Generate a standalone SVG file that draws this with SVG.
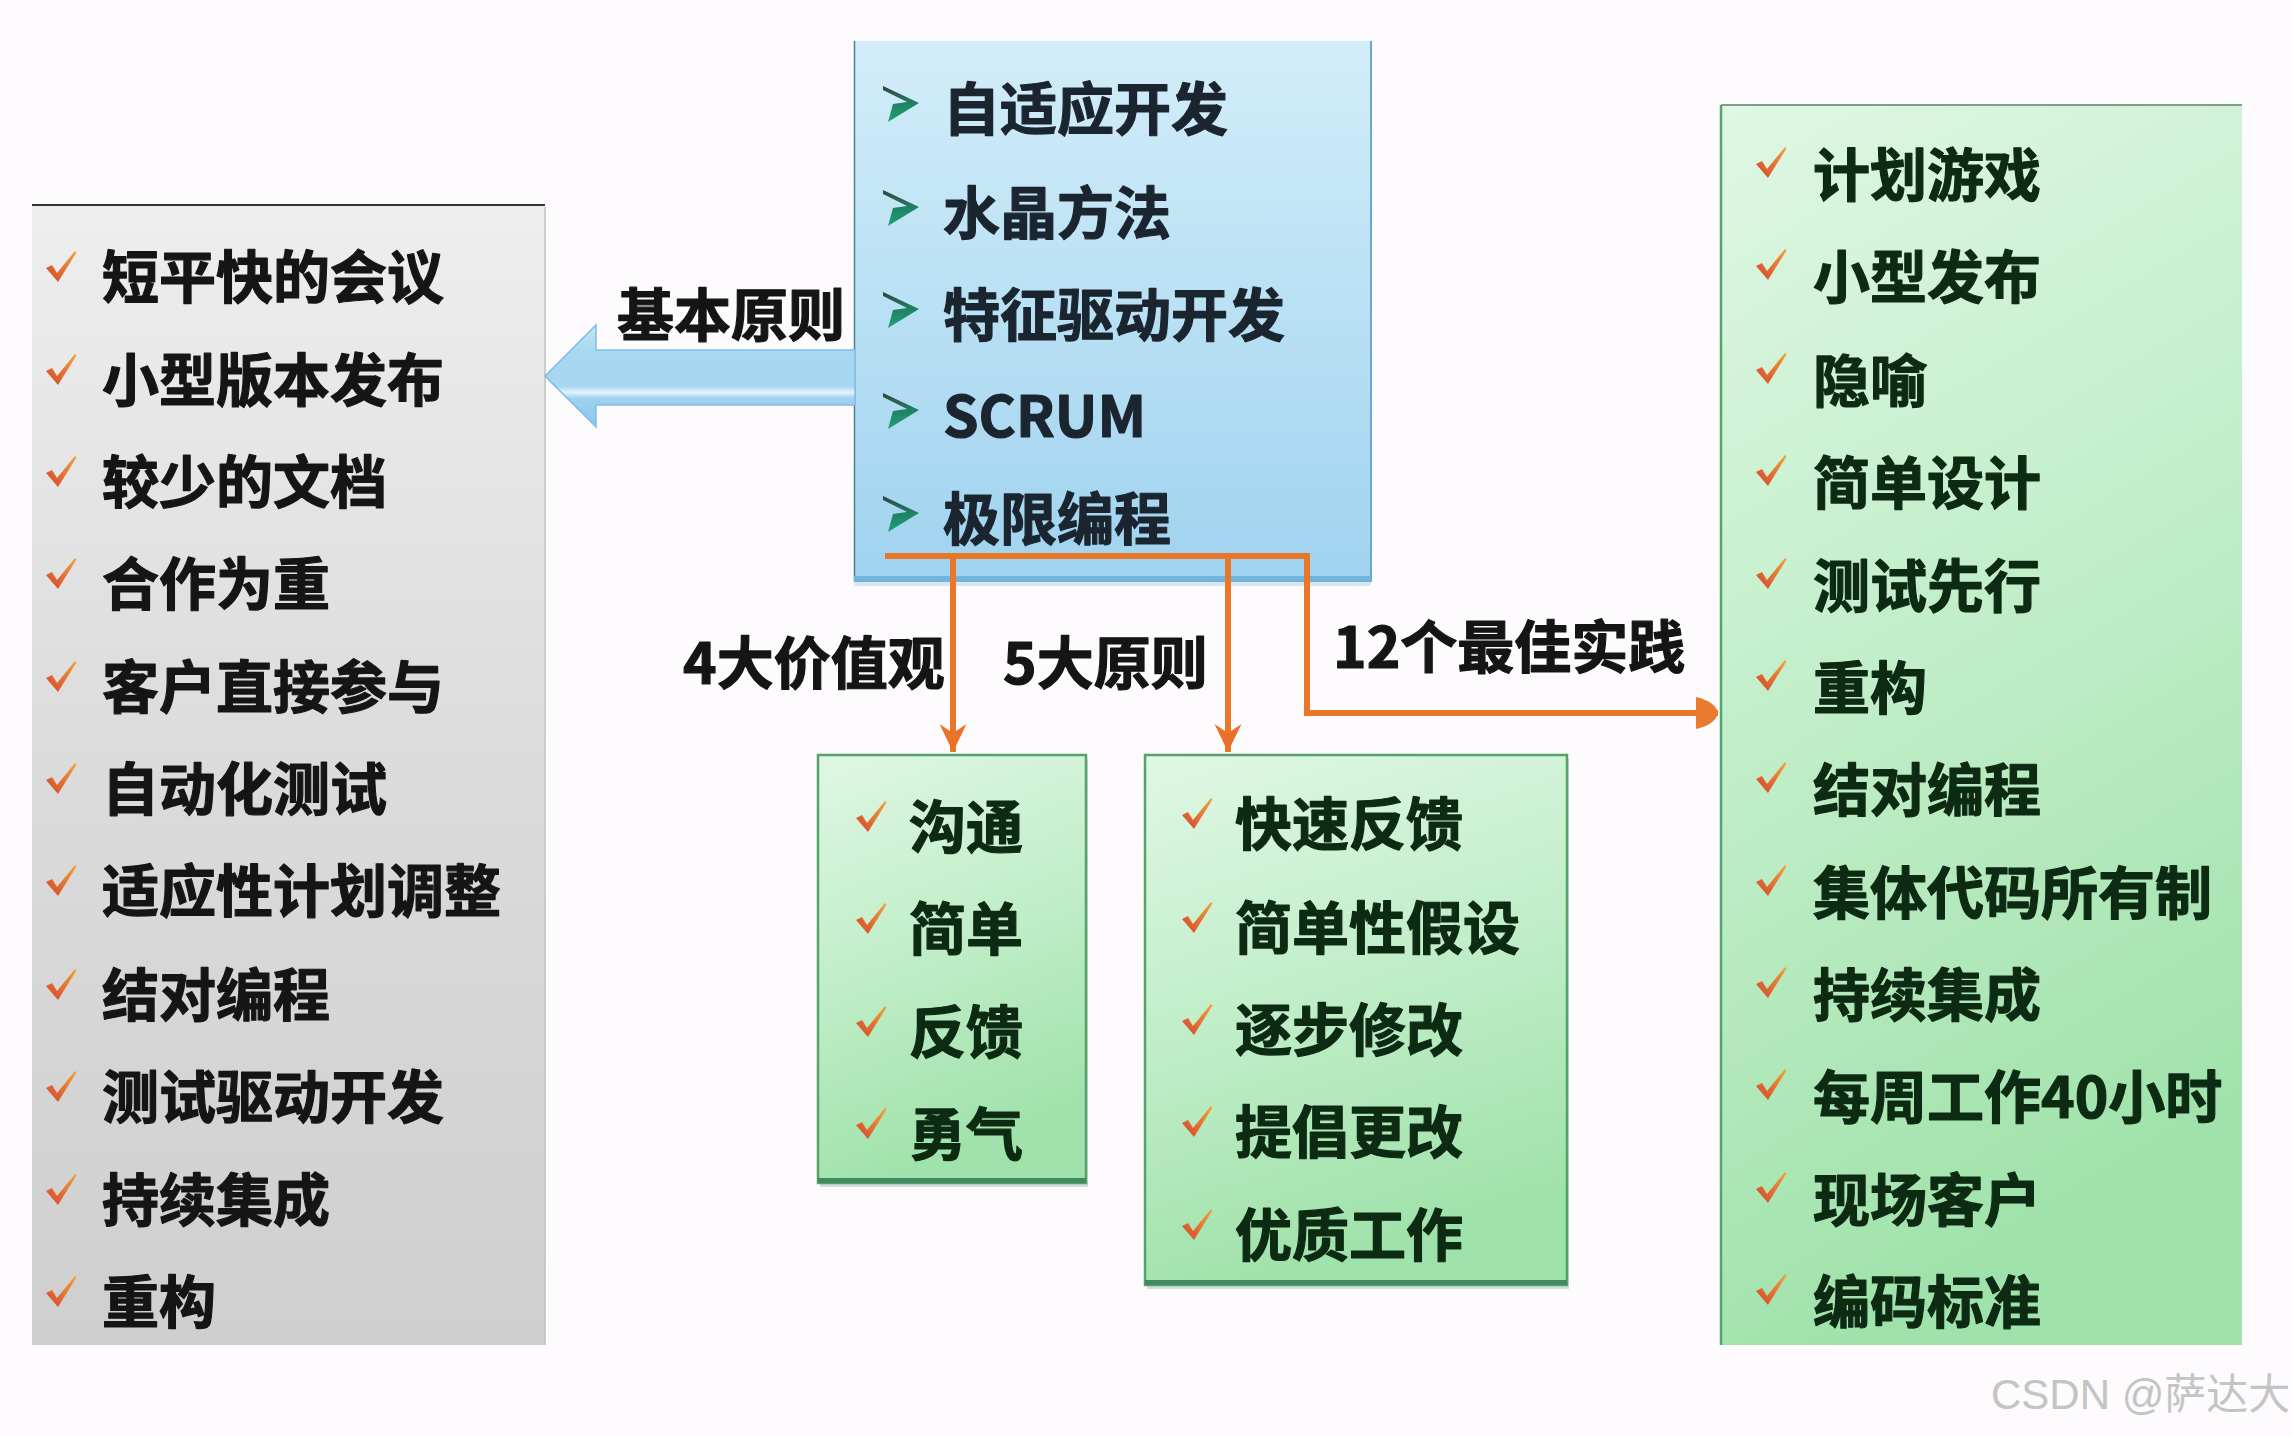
<svg xmlns="http://www.w3.org/2000/svg" width="2292" height="1436" viewBox="0 0 2292 1436">
<defs>
<style>
.t{font-family:"Noto Sans CJK SC","Noto Sans",sans-serif;font-weight:700;font-size:57px;dominant-baseline:central;stroke-width:1.2px;stroke-linejoin:round}
.tg{fill:#151515;stroke:#151515}
.tb{fill:#1b2530;stroke:#1b2530}
.tn{fill:#0d2a12;stroke:#0d2a12}
.lbl{fill:#151515;stroke:#151515}
.wm{font-family:"Liberation Sans","Noto Sans CJK SC",sans-serif;font-size:42px;fill:#c4c4c4;dominant-baseline:central}
.conn{fill:none;stroke:#ea7628;stroke-width:6}
</style>
<linearGradient id="gGray" x1="0" y1="0" x2="0" y2="1"><stop offset="0" stop-color="#eeeeee"/><stop offset="0.5" stop-color="#dbdbdb"/><stop offset="1" stop-color="#cfcfcf"/></linearGradient>
<linearGradient id="gBlue" x1="0" y1="0" x2="0" y2="1"><stop offset="0" stop-color="#d3edf9"/><stop offset="1" stop-color="#9fd3ef"/></linearGradient>
<linearGradient id="gGreen" x1="0" y1="0" x2="0.25" y2="1"><stop offset="0" stop-color="#dff7e4"/><stop offset="0.5" stop-color="#c2eec9"/><stop offset="1" stop-color="#a0e2ab"/></linearGradient>
<linearGradient id="gArrow" x1="0" y1="0" x2="0" y2="1"><stop offset="0" stop-color="#c4e6f6"/><stop offset="0.25" stop-color="#a9d8f1"/><stop offset="0.6" stop-color="#a6d6f0"/><stop offset="0.66" stop-color="#e4f3fb"/><stop offset="0.72" stop-color="#9fd1ee"/><stop offset="1" stop-color="#8ac8ea"/></linearGradient>
<linearGradient id="gCheck" x1="1" y1="0" x2="0" y2="1"><stop offset="0" stop-color="#f2a43c"/><stop offset="1" stop-color="#d4442c"/></linearGradient>
<linearGradient id="gChev" x1="0" y1="0" x2="0" y2="1"><stop offset="0" stop-color="#34403f"/><stop offset="0.45" stop-color="#1f7f62"/><stop offset="1" stop-color="#1fa277"/></linearGradient>
<path id="chk" d="M1,17 L7,14 L12,22 L30,0 L31.5,1.5 L13,31 Z" fill="url(#gCheck)"/>
<path id="chev" d="M0,0 L36,17 L5,36 L10,18 L24,16 L0,4 Z" fill="url(#gChev)"/>
<marker id="mDown" markerUnits="userSpaceOnUse" markerWidth="30" markerHeight="30" viewBox="0 -15 30 30" refX="28" refY="0" orient="auto"><path d="M0,-13.5 L28,0 L0,13.5 L9,0 Z" fill="#ea7228"/></marker>
<marker id="mRight" markerUnits="userSpaceOnUse" markerWidth="26" markerHeight="36" viewBox="0 -18 26 36" refX="22" refY="0" orient="auto"><path d="M0,-16 Q20,-11 22,0 Q20,11 0,16 Z" fill="#e97a2e"/></marker>
</defs>
<rect width="2292" height="1436" fill="#fdfbfd"/>

<g id="practices">
<rect x="32" y="205" width="513" height="1140" fill="url(#gGray)"/>
<line x1="32" y1="205" x2="545" y2="205" stroke="#333" stroke-width="2"/>
<line x1="545" y1="207" x2="545" y2="1345" stroke="#c2c2c2" stroke-width="1.5"/>
<use href="#chk" x="45" y="251"/><text class="t tg" x="102" y="273">短平快的会议</text>
<use href="#chk" x="45" y="354"/><text class="t tg" x="102" y="376">小型版本发布</text>
<use href="#chk" x="45" y="456"/><text class="t tg" x="102" y="478">较少的文档</text>
<use href="#chk" x="45" y="558"/><text class="t tg" x="102" y="580">合作为重</text>
<use href="#chk" x="45" y="661"/><text class="t tg" x="102" y="683">客户直接参与</text>
<use href="#chk" x="45" y="763"/><text class="t tg" x="102" y="785">自动化测试</text>
<use href="#chk" x="45" y="865"/><text class="t tg" x="102" y="887">适应性计划调整</text>
<use href="#chk" x="45" y="969"/><text class="t tg" x="102" y="991">结对编程</text>
<use href="#chk" x="45" y="1071"/><text class="t tg" x="102" y="1093">测试驱动开发</text>
<use href="#chk" x="45" y="1174"/><text class="t tg" x="102" y="1196">持续集成</text>
<use href="#chk" x="45" y="1276"/><text class="t tg" x="102" y="1298">重构</text>
</g>

<g id="methods">
<rect x="854" y="41" width="517" height="541" fill="url(#gBlue)"/>
<line x1="854.5" y1="41" x2="854.5" y2="582" stroke="#4d7f9c" stroke-width="1.5"/>
<line x1="1371" y1="41" x2="1371" y2="582" stroke="#6aa8cc" stroke-width="2"/>
<rect x="854" y="576" width="517" height="6" fill="#72b4da"/>
<rect x="854" y="582" width="517" height="4" fill="#c9dde8" opacity="0.7"/>
<use href="#chev" x="883" y="86"/><text class="t tb" x="943" y="105">自适应开发</text>
<use href="#chev" x="883" y="190"/><text class="t tb" x="943" y="209">水晶方法</text>
<use href="#chev" x="883" y="292"/><text class="t tb" x="943" y="311">特征驱动开发</text>
<use href="#chev" x="883" y="393"/><text class="t tb" x="943" y="412">SCRUM</text>
<use href="#chev" x="883" y="496"/><text class="t tb" x="943" y="515">极限编程</text>
</g>

<g id="values">
<rect x="820" y="759" width="268" height="428" fill="#b9c9c2" opacity="0.6"/>
<rect x="818" y="755" width="268" height="428" fill="url(#gGreen)" stroke="#55a368" stroke-width="2.5"/>
<rect x="818" y="1178" width="268" height="5" fill="#3f8a62"/>
<use href="#chk" x="855" y="801"/><text class="t tn" x="909" y="823">沟通</text>
<use href="#chk" x="855" y="903"/><text class="t tn" x="909" y="925">简单</text>
<use href="#chk" x="855" y="1006"/><text class="t tn" x="909" y="1028">反馈</text>
<use href="#chk" x="855" y="1108"/><text class="t tn" x="909" y="1130">勇气</text>
</g>

<g id="principles">
<rect x="1147" y="759" width="422" height="530" fill="#b9c9c2" opacity="0.6"/>
<rect x="1145" y="755" width="422" height="530" fill="url(#gGreen)" stroke="#55a368" stroke-width="2.5"/>
<rect x="1145" y="1280" width="422" height="5" fill="#3f8a62"/>
<use href="#chk" x="1181" y="798"/><text class="t tn" x="1235" y="820">快速反馈</text>
<use href="#chk" x="1181" y="902"/><text class="t tn" x="1235" y="924">简单性假设</text>
<use href="#chk" x="1181" y="1004"/><text class="t tn" x="1235" y="1026">逐步修改</text>
<use href="#chk" x="1181" y="1106"/><text class="t tn" x="1235" y="1128">提倡更改</text>
<use href="#chk" x="1181" y="1209"/><text class="t tn" x="1235" y="1231">优质工作</text>
</g>

<g id="best-practices">
<rect x="1721" y="105" width="521" height="1240" fill="url(#gGreen)"/>
<line x1="1721" y1="105" x2="2242" y2="105" stroke="#7f9e8c" stroke-width="2"/>
<line x1="1721" y1="105" x2="1721" y2="1345" stroke="#4fa86a" stroke-width="2.5"/>
<use href="#chk" x="1755" y="147"/><text class="t tn" x="1813" y="171">计划游戏</text>
<use href="#chk" x="1755" y="249"/><text class="t tn" x="1813" y="273">小型发布</text>
<use href="#chk" x="1755" y="353"/><text class="t tn" x="1813" y="377">隐喻</text>
<use href="#chk" x="1755" y="455"/><text class="t tn" x="1813" y="479">简单设计</text>
<use href="#chk" x="1755" y="558"/><text class="t tn" x="1813" y="582">测试先行</text>
<use href="#chk" x="1755" y="660"/><text class="t tn" x="1813" y="684">重构</text>
<use href="#chk" x="1755" y="762"/><text class="t tn" x="1813" y="786">结对编程</text>
<use href="#chk" x="1755" y="865"/><text class="t tn" x="1813" y="889">集体代码所有制</text>
<use href="#chk" x="1755" y="967"/><text class="t tn" x="1813" y="991">持续集成</text>
<use href="#chk" x="1755" y="1069"/><text class="t tn" x="1813" y="1093">每周工作40小时</text>
<use href="#chk" x="1755" y="1172"/><text class="t tn" x="1813" y="1196">现场客户</text>
<use href="#chk" x="1755" y="1274"/><text class="t tn" x="1813" y="1298">编码标准</text>
</g>

<g id="connectors">
<path d="M545,376 L596,325 L596,350 L855,350 L855,405 L596,405 L596,427 Z" fill="url(#gArrow)" stroke="#7dbfe3" stroke-width="1.5"/>
<path class="conn" d="M885,556 H1310"/>
<path class="conn" d="M953,556 V752" marker-end="url(#mDown)"/>
<path class="conn" d="M1228,556 V752" marker-end="url(#mDown)"/>
<path class="conn" d="M1307,556 V713 H1718" marker-end="url(#mRight)"/>
<text class="t lbl" x="617" y="311">基本原则</text>
<text class="t lbl" x="683" y="659">4大价值观</text>
<text class="t lbl" x="1003" y="659">5大原则</text>
<text class="t lbl" x="1333" y="643">12个最佳实践</text>
</g>

<text class="wm" x="1991" y="1394">CSDN @萨达大</text>
</svg>
